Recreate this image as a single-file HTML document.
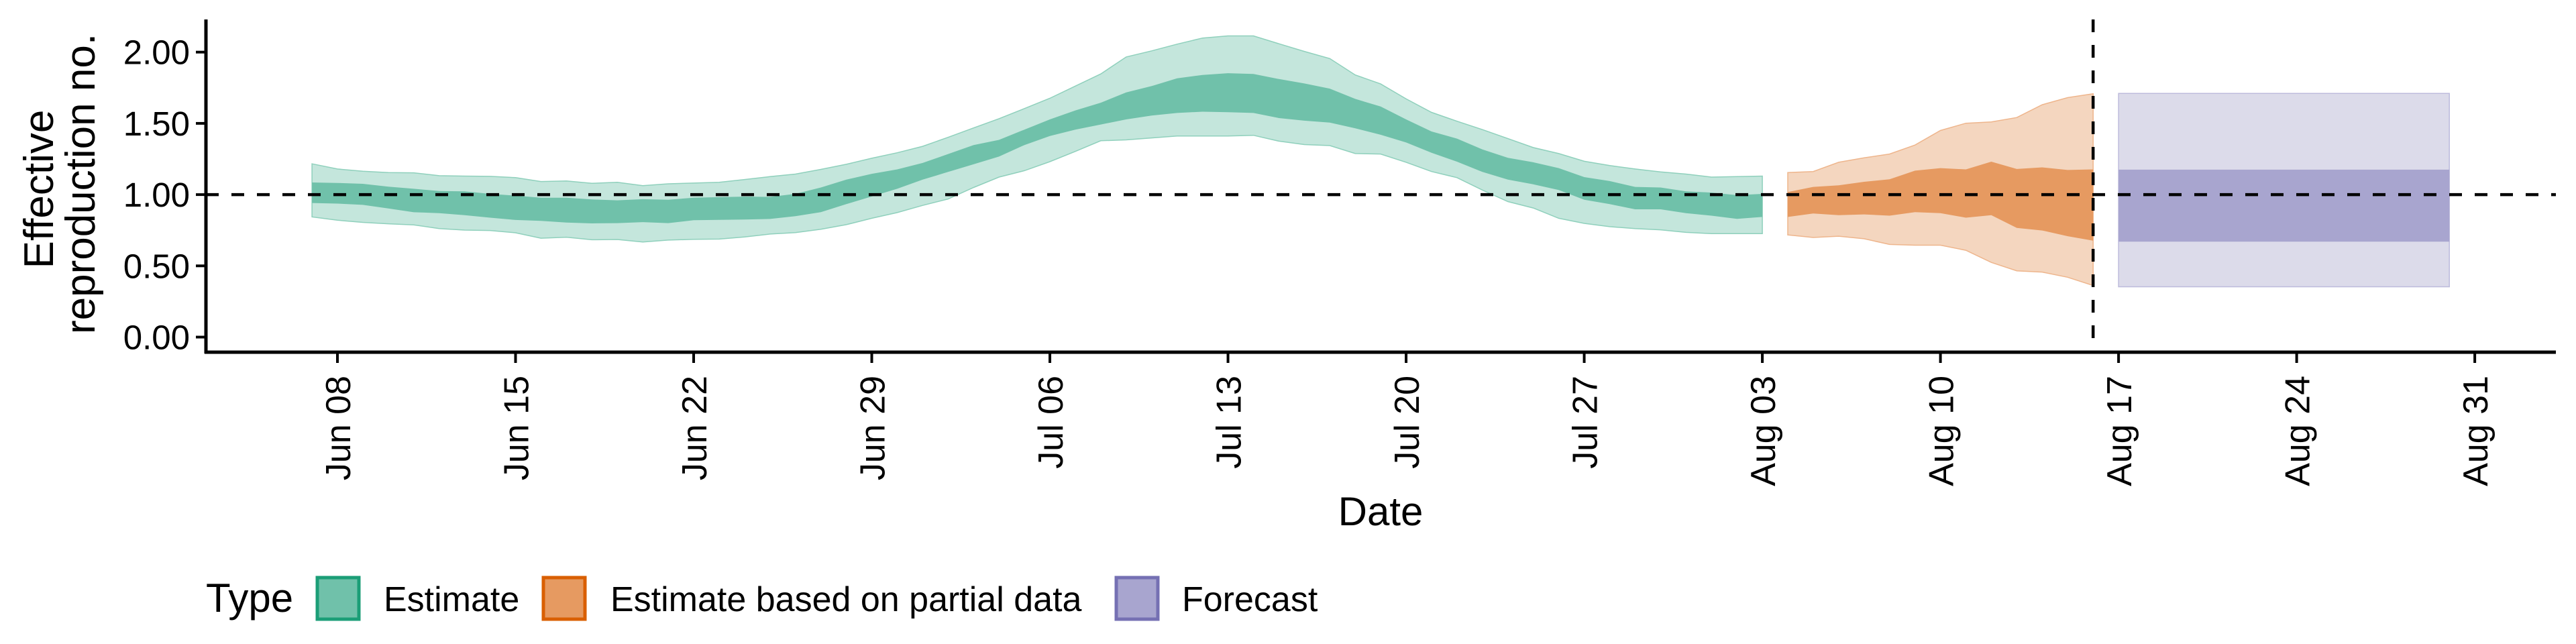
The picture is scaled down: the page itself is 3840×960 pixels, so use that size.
<!DOCTYPE html>
<html><head><meta charset="utf-8"><style>
html,body{margin:0;padding:0;background:#fff;}
svg{display:block;font-family:"Liberation Sans",Arial,sans-serif;}
</style></head><body>
<svg id="chart" width="3840" height="960" viewBox="0 0 3840 960" xmlns="http://www.w3.org/2000/svg">
<rect x="0" y="0" width="3840" height="960" fill="#fff"/>
<g id="ribbons"></g>
<g id="refs"></g>
<g id="axes"></g>
<text transform="translate(79,282) rotate(-90)" text-anchor="middle" font-size="62">Effective</text>
<text transform="translate(141,274) rotate(-90)" text-anchor="middle" font-size="62">reproduction no.</text>
<text x="2058" y="783" text-anchor="middle" font-size="60">Date</text>
<g>
<text x="307" y="912" font-size="60">Type</text>
<g>
<rect x="473" y="861" width="62" height="62" fill="#70c1aa" stroke="#1b9e77" stroke-width="5"/>
<text x="572" y="911" font-size="52">Estimate</text>
</g>
<g>
<rect x="810" y="861" width="62" height="62" fill="#e69a61" stroke="#d95f02" stroke-width="5"/>
<text x="910" y="911" font-size="52">Estimate based on partial data</text>
</g>
<g>
<rect x="1664" y="861" width="62" height="62" fill="#a8a5cf" stroke="#7570b3" stroke-width="5"/>
<text x="1762" y="911" font-size="52">Forecast</text>
</g>
</g>
</svg>
<script>
const greenDates = ["2020-06-07","2020-06-08","2020-06-09","2020-06-10","2020-06-11","2020-06-12","2020-06-13","2020-06-14","2020-06-15","2020-06-16","2020-06-17","2020-06-18","2020-06-19","2020-06-20","2020-06-21","2020-06-22","2020-06-23","2020-06-24","2020-06-25","2020-06-26","2020-06-27","2020-06-28","2020-06-29","2020-06-30","2020-07-01","2020-07-02","2020-07-03","2020-07-04","2020-07-05","2020-07-06","2020-07-07","2020-07-08","2020-07-09","2020-07-10","2020-07-11","2020-07-12","2020-07-13","2020-07-14","2020-07-15","2020-07-16","2020-07-17","2020-07-18","2020-07-19","2020-07-20","2020-07-21","2020-07-22","2020-07-23","2020-07-24","2020-07-25","2020-07-26","2020-07-27","2020-07-28","2020-07-29","2020-07-30","2020-07-31","2020-08-01","2020-08-02","2020-08-03"];
const greenOuterUpper = [1.216,1.18,1.164,1.155,1.153,1.133,1.13,1.128,1.119,1.092,1.096,1.079,1.086,1.063,1.076,1.081,1.086,1.106,1.126,1.144,1.177,1.213,1.255,1.294,1.339,1.402,1.468,1.533,1.604,1.676,1.762,1.847,1.966,2.009,2.056,2.099,2.114,2.114,2.059,2.005,1.955,1.84,1.777,1.672,1.577,1.515,1.456,1.393,1.33,1.288,1.234,1.204,1.18,1.159,1.144,1.123,1.126,1.13];
const greenInnerUpper = [1.085,1.082,1.076,1.056,1.041,1.025,1.023,1.005,0.993,0.978,0.978,0.966,0.96,0.968,0.964,0.978,0.982,0.986,0.984,1.005,1.05,1.105,1.146,1.177,1.222,1.285,1.348,1.384,1.456,1.528,1.591,1.645,1.717,1.762,1.816,1.84,1.852,1.847,1.811,1.78,1.744,1.672,1.618,1.528,1.443,1.393,1.317,1.258,1.227,1.186,1.123,1.095,1.054,1.05,1.023,1.014,0.996,1.005];
const greenInnerLower = [0.941,0.937,0.928,0.903,0.876,0.870,0.856,0.838,0.822,0.816,0.804,0.798,0.8,0.807,0.8,0.82,0.823,0.825,0.829,0.849,0.877,0.933,0.987,1.041,1.105,1.159,1.213,1.267,1.348,1.411,1.456,1.492,1.528,1.555,1.573,1.582,1.578,1.573,1.537,1.519,1.505,1.465,1.42,1.366,1.294,1.231,1.159,1.105,1.072,1.032,0.964,0.933,0.897,0.897,0.870,0.852,0.83,0.843];
const greenOuterLower = [0.843,0.82,0.805,0.795,0.787,0.762,0.751,0.748,0.732,0.694,0.701,0.683,0.685,0.667,0.681,0.686,0.688,0.703,0.723,0.733,0.757,0.789,0.834,0.874,0.924,0.969,1.05,1.123,1.168,1.231,1.303,1.378,1.384,1.398,1.411,1.411,1.411,1.416,1.375,1.351,1.344,1.288,1.285,1.227,1.162,1.119,1.032,0.951,0.906,0.834,0.798,0.775,0.762,0.753,0.735,0.726,0.726,0.726];
const orangeDates = ["2020-08-04","2020-08-05","2020-08-06","2020-08-07","2020-08-08","2020-08-09","2020-08-10","2020-08-11","2020-08-12","2020-08-13","2020-08-14","2020-08-15","2020-08-16"];
const orangeOuterUpper = [1.155,1.162,1.227,1.258,1.285,1.348,1.45,1.501,1.51,1.541,1.631,1.681,1.708];
const orangeInnerUpper = [1.018,1.054,1.065,1.09,1.108,1.168,1.186,1.177,1.231,1.18,1.191,1.173,1.177];
const orangeInnerLower = [0.843,0.867,0.856,0.861,0.852,0.877,0.870,0.838,0.856,0.766,0.748,0.708,0.677];
const orangeOuterLower = [0.717,0.699,0.708,0.69,0.65,0.645,0.645,0.609,0.524,0.465,0.456,0.420,0.362];
const forecastDates = ["2020-08-17","2020-08-30"];
const forecastOuterUpper = [1.71,1.71];
const forecastInnerUpper = [1.175,1.175];
const forecastInnerLower = [0.67,0.67];
const forecastOuterLower = [0.353,0.353];
const yTicks = [0, 0.5, 1, 1.5, 2];
const yTickLabels = ["0.00","0.50","1.00","1.50","2.00"];
const xTickDates = ["2020-06-08","2020-06-15","2020-06-22","2020-06-29","2020-07-06","2020-07-13","2020-07-20","2020-07-27","2020-08-03","2020-08-10","2020-08-17","2020-08-24","2020-08-31"];
const xTickLabels = ["Jun 08","Jun 15","Jun 22","Jun 29","Jul 06","Jul 13","Jul 20","Jul 27","Aug 03","Aug 10","Aug 17","Aug 24","Aug 31"];
const refLevel = 1;
const cutoffDate = "2020-08-16";

const NS = "http://www.w3.org/2000/svg";
const X0 = 503, PXDAY = 37.93, Y0 = 502.5, PXUNIT = 212.4;
const origin = Date.UTC(2020,5,8);
function xs(d){ const p=d.split("-"); const t=Date.UTC(+p[0],+p[1]-1,+p[2]); return X0 + (t-origin)/86400000*PXDAY; }
function ys(v){ return Y0 - v*PXUNIT; }
function mk(tag, attrs, parent){ const e=document.createElementNS(NS,tag); for(const k in attrs) e.setAttribute(k,attrs[k]); parent.appendChild(e); return e; }

const rib = document.getElementById("ribbons");
function band(dates, up, lo, fill, stroke, name){
  const pts=[];
  for(let i=0;i<dates.length;i++) pts.push(xs(dates[i]).toFixed(1)+","+ys(up[i]).toFixed(1));
  for(let i=dates.length-1;i>=0;i--) pts.push(xs(dates[i]).toFixed(1)+","+ys(lo[i]).toFixed(1));
  const p = mk("polygon",{points:pts.join(" "),fill:fill,stroke:stroke,"stroke-width":stroke==="none"?0:1.5},rib);
  
  
}
band(greenDates, greenOuterUpper, greenOuterLower, "#c4e6dc", "#8fd0bc", "estimate-outer-ribbon");
band(greenDates, greenInnerUpper, greenInnerLower, "#70c1aa", "none", "estimate-inner-ribbon");
band(orangeDates, orangeOuterUpper, orangeOuterLower, "#f4d6bf", "#eeb58c", "partial-outer-ribbon");
band(orangeDates, orangeInnerUpper, orangeInnerLower, "#e69a61", "none", "partial-inner-ribbon");
band(forecastDates, forecastOuterUpper, forecastOuterLower, "#dcdbea", "#bdbbdc", "forecast-outer-ribbon");
band(forecastDates, forecastInnerUpper, forecastInnerLower, "#a8a5cf", "none", "forecast-inner-ribbon");

const refs = document.getElementById("refs");
const hl = mk("line",{x1:307,x2:3810,y1:ys(refLevel),y2:ys(refLevel),stroke:"#000","stroke-width":4.5,"stroke-dasharray":"19 19"},refs);


const vl = mk("line",{x1:xs(cutoffDate),x2:xs(cutoffDate),y1:29,y2:525,stroke:"#000","stroke-width":4.5,"stroke-dasharray":"19 19"},refs);



const ax = document.getElementById("axes");
const ya = mk("line",{x1:307,x2:307,y1:29,y2:527,stroke:"#000","stroke-width":5},ax);


const xa = mk("line",{x1:305,x2:3810,y1:525,y2:525,stroke:"#000","stroke-width":5},ax);


for(let i=0;i<yTicks.length;i++){
  const y=ys(yTicks[i]);
  const t=mk("line",{x1:292,x2:307,y1:y,y2:y,stroke:"#000","stroke-width":4},ax);
  
  
  const l=mk("text",{x:283,y:y+18,"text-anchor":"end","font-size":51},ax);
  
  
  l.textContent=yTickLabels[i];
}
for(let i=0;i<xTickDates.length;i++){
  const x=xs(xTickDates[i]);
  const t=mk("line",{x1:x,x2:x,y1:525,y2:541,stroke:"#000","stroke-width":4},ax);
  
  
  const l=mk("text",{transform:"translate("+(x+19)+",560) rotate(-90)","text-anchor":"end","font-size":52},ax);
  
  
  l.textContent=xTickLabels[i];
}
</script>
</body></html>
